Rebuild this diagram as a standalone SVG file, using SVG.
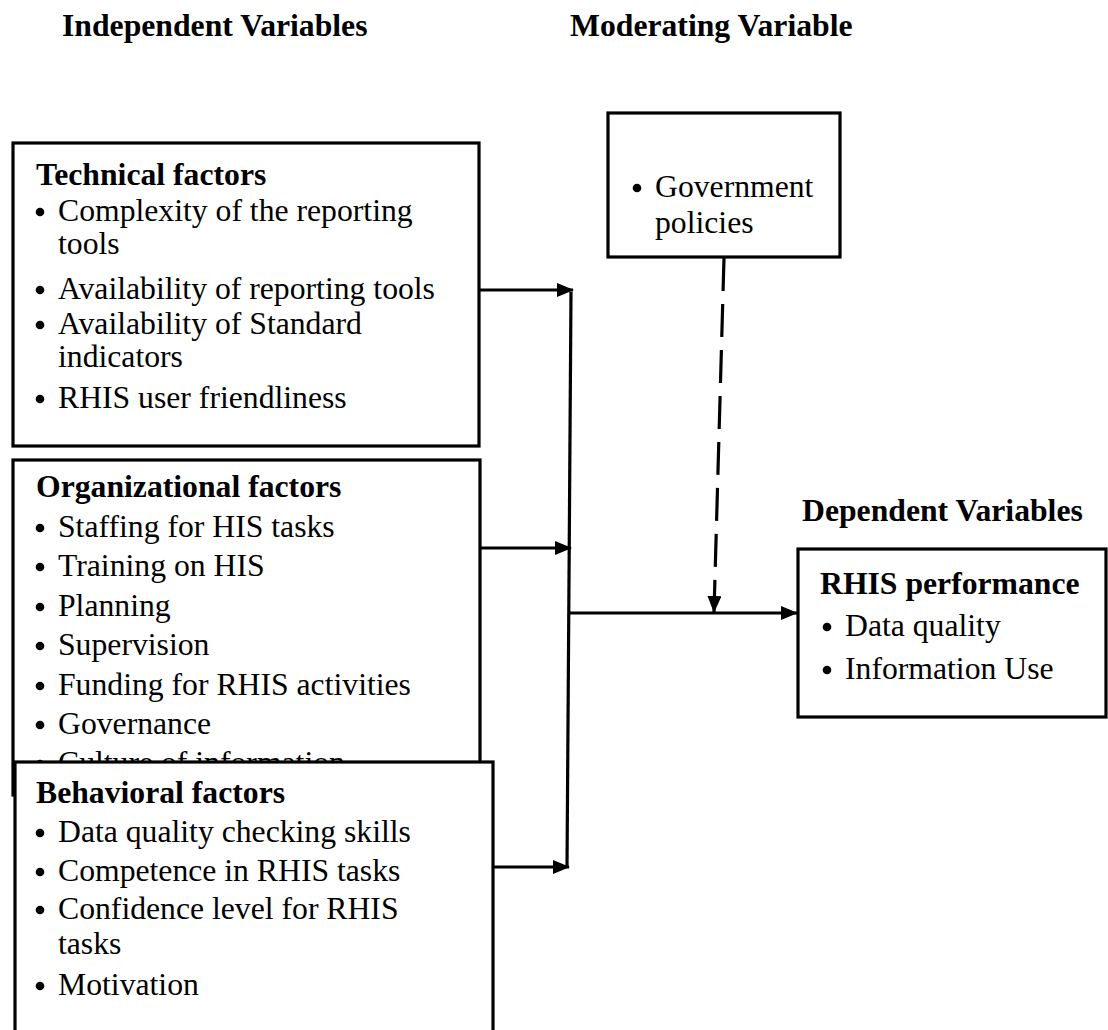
<svg xmlns="http://www.w3.org/2000/svg" width="1108" height="1030" viewBox="0 0 1108 1030">
<style>
text{font-family:"Liberation Serif","Times New Roman",serif;fill:#000;font-size:31.7px}
.h{font-weight:bold}
.box{fill:#fff;stroke:#000;stroke-width:3.2}
.ln{stroke:#000;stroke-width:3.2;fill:none}
</style>
<defs>
<marker id="ah" markerWidth="17" markerHeight="14" refX="16" refY="7" orient="auto" markerUnits="userSpaceOnUse" viewBox="0 0 17 14">
<path d="M0,0L17,7L0,14z" fill="#000"/>
</marker>
<circle id="dot" r="4.3" fill="#000"/>
</defs>
<text class="h" x="62" y="36">Independent Variables</text>
<text class="h" x="570" y="36">Moderating Variable</text>
<text class="h" x="802" y="521">Dependent Variables</text>

<g id="technical">
<rect class="box" x="13" y="143" width="466" height="303"/>
<text class="h" x="36" y="185">Technical factors</text>
<use href="#dot" x="40" y="212"/><text x="58" y="221">Complexity of the reporting</text>
<text x="58" y="254">tools</text>
<use href="#dot" x="40" y="290"/><text x="58" y="299">Availability of reporting tools</text>
<use href="#dot" x="40" y="325"/><text x="58" y="334">Availability of Standard</text>
<text x="58" y="367">indicators</text>
<use href="#dot" x="40" y="399"/><text x="58" y="408">RHIS user friendliness</text>
</g>

<g id="organizational">
<rect class="box" x="13" y="460" width="467" height="335"/>
<text class="h" x="36" y="497">Organizational factors</text>
<use href="#dot" x="40" y="528"/><text x="58" y="537">Staffing for HIS tasks</text>
<use href="#dot" x="40" y="567"/><text x="58" y="576">Training on HIS</text>
<use href="#dot" x="40" y="607"/><text x="58" y="616">Planning</text>
<use href="#dot" x="40" y="646"/><text x="58" y="655">Supervision</text>
<use href="#dot" x="40" y="686"/><text x="58" y="695">Funding for RHIS activities</text>
<use href="#dot" x="40" y="725"/><text x="58" y="734">Governance</text>
<use href="#dot" x="40" y="764"/><text x="58" y="773">Culture of information</text>
</g>

<g id="behavioral">
<rect class="box" x="15" y="762" width="478" height="300"/>
<text class="h" x="36" y="803">Behavioral factors</text>
<use href="#dot" x="40" y="833"/><text x="58" y="842">Data quality checking skills</text>
<use href="#dot" x="40" y="872"/><text x="58" y="881">Competence in RHIS tasks</text>
<use href="#dot" x="40" y="910"/><text x="58" y="919">Confidence level for RHIS</text>
<text x="58" y="954">tasks</text>
<use href="#dot" x="40" y="986"/><text x="58" y="995">Motivation</text>
</g>

<g id="government">
<rect class="box" x="608" y="113" width="232" height="144"/>
<use href="#dot" x="637" y="188"/><text x="655" y="197">Government</text>
<text x="655" y="233">policies</text>
</g>

<g id="rhis">
<rect class="box" x="798" y="549" width="308" height="168"/>
<text class="h" x="820" y="594">RHIS performance</text>
<use href="#dot" x="827" y="627"/><text x="845" y="636">Data quality</text>
<use href="#dot" x="827" y="670"/><text x="845" y="679">Information Use</text>
</g>

<g id="connectors">
<line class="ln" x1="478" y1="290" x2="573" y2="290" marker-end="url(#ah)"/>
<line class="ln" x1="480" y1="548" x2="571" y2="548" marker-end="url(#ah)"/>
<line class="ln" x1="493" y1="867" x2="569" y2="867" marker-end="url(#ah)"/>
<line class="ln" x1="571" y1="292" x2="567" y2="868"/>
<line class="ln" x1="569" y1="613" x2="797" y2="613" marker-end="url(#ah)"/>
<line class="ln" x1="724" y1="258" x2="714" y2="612" stroke-dasharray="33,13" marker-end="url(#ah)"/>
</g>
</svg>
